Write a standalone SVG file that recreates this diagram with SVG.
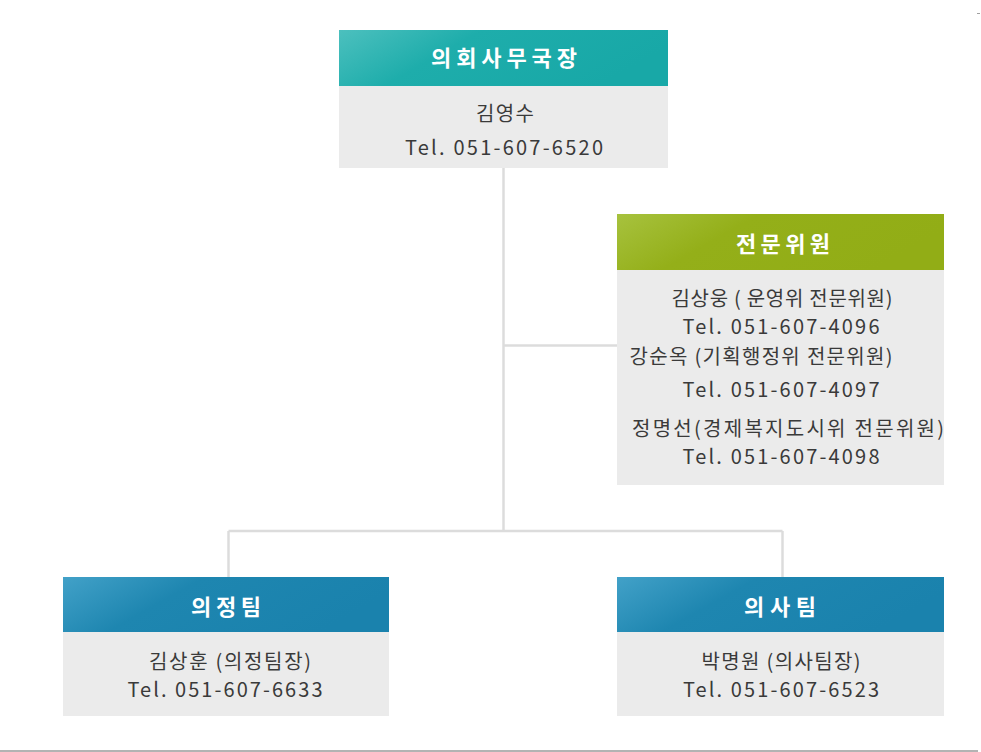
<svg xmlns="http://www.w3.org/2000/svg" width="981" height="752" viewBox="0 0 981 752">
<defs>
<linearGradient id="gTeal" x1="0" y1="0" x2="1" y2="0.3"><stop offset="0" stop-color="#4cc0be"/><stop offset="0.4" stop-color="#1eadab"/><stop offset="1" stop-color="#18a8a7"/></linearGradient>
<linearGradient id="gGreen" x1="0" y1="0" x2="1" y2="0.3"><stop offset="0" stop-color="#a7c23e"/><stop offset="0.4" stop-color="#94af19"/><stop offset="1" stop-color="#92ad16"/></linearGradient>
<linearGradient id="gBlue" x1="0" y1="0" x2="1" y2="0.3"><stop offset="0" stop-color="#42a1c8"/><stop offset="0.4" stop-color="#1e86b0"/><stop offset="1" stop-color="#1a82ad"/></linearGradient>
<style>
.body{fill:#ebebeb}
.hd{font-family:"Noto Sans CJK KR","Noto Sans",sans-serif;font-size:22px;font-weight:bold;fill:#ffffff;text-anchor:middle}
.tx{font-family:"Noto Sans CJK KR","Liberation Sans",sans-serif;font-size:20px;fill:#3a3a3a;text-anchor:middle}
.ln{stroke:#dcdcdc;stroke-width:2.5;fill:none}
</style>
</defs>
<rect width="981" height="752" fill="#ffffff"/>
<g id="connectors">
<path class="ln" d="M503.5 168 V531"/>
<path class="ln" d="M503.5 345.5 H617"/>
<path class="ln" d="M228.5 531 H782.5"/>
<path class="ln" d="M228.5 531 V577"/>
<path class="ln" d="M782.5 531 V577"/>
</g>
<g id="node-director">
<rect x="339" y="30" width="329" height="56" fill="url(#gTeal)"/>
<rect class="body" x="339" y="86" width="329" height="82"/>
<text class="hd" x="504" y="66" textLength="146" lengthAdjust="spacing">의회사무국장</text>
<text class="tx" x="505" y="121" textLength="58" lengthAdjust="spacing">김영수</text>
<text class="tx" x="504" y="155" textLength="198" lengthAdjust="spacing">Tel. 051-607-6520</text>
</g>
<g id="node-experts">
<rect x="617" y="214" width="327" height="56" fill="url(#gGreen)"/>
<rect class="body" x="617" y="270" width="327" height="215"/>
<text class="hd" x="783" y="252" textLength="94" lengthAdjust="spacing">전문위원</text>
<text class="tx" x="782" y="306" textLength="221" lengthAdjust="spacing">김상웅 ( 운영위 전문위원)</text>
<text class="tx" x="781" y="334" textLength="197" lengthAdjust="spacing">Tel. 051-607-4096</text>
<text class="tx" x="761" y="364" textLength="263" lengthAdjust="spacing">강순옥 (기획행정위 전문위원)</text>
<text class="tx" x="781" y="397" textLength="197" lengthAdjust="spacing">Tel. 051-607-4097</text>
<text class="tx" x="788" y="436" textLength="312" lengthAdjust="spacing">정명선(경제복지도시위 전문위원)</text>
<text class="tx" x="781" y="464" textLength="197" lengthAdjust="spacing">Tel. 051-607-4098</text>
</g>
<g id="node-uijeong">
<rect x="63" y="577" width="326" height="55" fill="url(#gBlue)"/>
<rect class="body" x="63" y="632" width="326" height="84"/>
<text class="hd" x="226" y="615" textLength="70" lengthAdjust="spacing">의정팀</text>
<text class="tx" x="230" y="669" textLength="162" lengthAdjust="spacing">김상훈 (의정팀장)</text>
<text class="tx" x="225" y="697" textLength="195" lengthAdjust="spacing">Tel. 051-607-6633</text>
</g>
<g id="node-uisa">
<rect x="617" y="577" width="327" height="55" fill="url(#gBlue)"/>
<rect class="body" x="617" y="632" width="327" height="84"/>
<text class="hd" x="780" y="615" textLength="72" lengthAdjust="spacing">의사팀</text>
<text class="tx" x="781" y="669" textLength="159" lengthAdjust="spacing">박명원 (의사팀장)</text>
<text class="tx" x="781" y="697" textLength="196" lengthAdjust="spacing">Tel. 051-607-6523</text>
</g>
<rect x="0" y="750" width="978" height="2" fill="#b3b3b3"/>
<rect x="977" y="13" width="3" height="1" fill="#a0a0a0"/>
</svg>
